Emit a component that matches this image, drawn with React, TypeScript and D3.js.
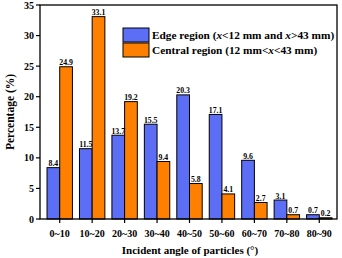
import React from "react";
import * as d3 from "d3";

const categories = ["0~10", "10~20", "20~30", "30~40", "40~50", "50~60", "60~70", "70~80", "80~90"];
const edgeValues = [8.4, 11.5, 13.7, 15.5, 20.3, 17.1, 9.6, 3.1, 0.7];
const centralValues = [24.9, 33.1, 19.2, 9.4, 5.8, 4.1, 2.7, 0.7, 0.2];
const yTicks = [0, 5, 10, 15, 20, 25, 30, 35];

const W = 342, H = 258;
const left = 40, right = 337, top = 5, bottom = 219;
const font = "'Liberation Serif', 'Times New Roman', serif";
const blue = "#5B6EF5";
const orange = "#FF8000";

export default function App() {
  const x = d3.scaleBand<string>().domain(categories).range([43.5, 335.5]);
  const y = d3.scaleLinear().domain([0, 35]).range([bottom, top]);
  const bw = 12.7;
  return (
    <svg width={W} height={H} style={{ position: "absolute", left: 0, top: 0 }} fontFamily={font}>
      <rect x={0} y={0} width={W} height={H} fill="#fff" />
      {categories.map((c, i) => {
        const cx = x(c)! + x.bandwidth() / 2;
        const e = edgeValues[i], o = centralValues[i];
        return (
          <g key={c}>
            <rect x={cx - bw} y={y(e)} width={bw} height={y(0) - y(e)} fill={blue} stroke="#000" strokeWidth={1} />
            <rect x={cx} y={y(o)} width={bw} height={y(0) - y(o)} fill={orange} stroke="#000" strokeWidth={1} />
            <text x={cx - bw / 2} y={y(e) - 1.5} fontSize={7.8} fontWeight="bold" textAnchor="middle">{e.toFixed(1)}</text>
            <text x={cx + bw / 2} y={y(o) - 1.5} fontSize={7.8} fontWeight="bold" textAnchor="middle">{o.toFixed(1)}</text>
            <line x1={cx} x2={cx} y1={bottom} y2={bottom + 4} stroke="#000" strokeWidth={1.2} />
            <text x={cx} y={237} fontSize={10} fontWeight="bold" textAnchor="middle">{c}</text>
          </g>
        );
      })}
      <rect x={left} y={top} width={right - left} height={bottom - top} fill="none" stroke="#000" strokeWidth={1.3} />
      {yTicks.map((t) => (
        <g key={t}>
          <line x1={left - 4} x2={left} y1={y(t)} y2={y(t)} stroke="#000" strokeWidth={1.2} />
          <text x={left - 6} y={y(t) + 3.5} fontSize={10} fontWeight="bold" textAnchor="end">{t}</text>
        </g>
      ))}
      <text transform={`translate(14,${(top + bottom) / 2}) rotate(-90)`} fontSize={11.5} fontWeight="bold" textAnchor="middle">Percentage (%)</text>
      <text x={190} y={254} fontSize={11} fontWeight="bold" textAnchor="middle">Incident angle of particles (°)</text>
      <rect x={123} y={28} width={26} height={14} fill={blue} stroke="#000" strokeWidth={1} />
      <rect x={123} y={43} width={26} height={14} fill={orange} stroke="#000" strokeWidth={1} />
      <text x={152} y={39} fontSize={11.3} fontWeight="bold">
        Edge region (<tspan fontStyle="italic">x</tspan>&lt;12 mm and <tspan fontStyle="italic">x</tspan>&gt;43 mm)
      </text>
      <text x={152} y={54} fontSize={11.3} fontWeight="bold">
        Central region (12 mm&lt;<tspan fontStyle="italic">x</tspan>&lt;43 mm)
      </text>
    </svg>
  );
}
